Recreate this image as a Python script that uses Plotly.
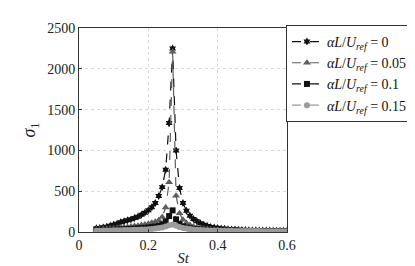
import plotly.graph_objects as go

st = [round(0.05 + 0.01 * i, 2) for i in range(56)]

sigma_a0 = [45, 50, 57, 65, 77, 90, 102, 119, 131, 143,
            155, 171, 188, 212, 237, 266, 303, 355, 440, 550,
            763, 1336, 2250, 1000, 539, 355, 261, 200, 159, 131,
            107, 88, 74, 63, 55, 48, 43, 39, 35, 32,
            30, 28, 26, 24, 23, 22, 21, 20, 19, 18,
            18, 17, 16, 16, 15, 15]
sigma_a005 = [30, 33, 36, 39, 42, 46, 50, 54, 58, 62,
              67, 72, 78, 85, 93, 102, 112, 125, 145, 185,
              300, 610, 2210, 445, 230, 150, 110, 85, 68, 57,
              48, 41, 36, 32, 29, 26, 24, 23, 21, 20,
              19, 18, 17, 16, 16, 15, 14, 14, 13, 13,
              13, 12, 12, 12, 11, 11]
sigma_a01 = [20, 21, 23, 24, 26, 28, 30, 32, 34, 36,
             38, 41, 44, 48, 51, 55, 60, 66, 75, 92,
             130, 195, 265, 155, 98, 70, 55, 45, 38, 33,
             29, 26, 24, 22, 20, 19, 18, 17, 16, 15,
             15, 14, 14, 13, 13, 12, 12, 12, 11, 11,
             11, 10, 10, 10, 10, 10]
sigma_a015 = [15, 16, 17, 18, 19, 20, 21, 22, 23, 24,
              25, 27, 28, 30, 32, 35, 38, 42, 48, 55,
              68, 82, 92, 78, 62, 50, 42, 36, 31, 27,
              24, 22, 20, 19, 18, 17, 16, 15, 14, 14,
              13, 13, 12, 12, 12, 11, 11, 11, 10, 10,
              10, 10, 10, 9, 9, 9]

labels = ["<i>αL</i>/<i>U</i><sub><i>ref</i></sub> = 0",
          "<i>αL</i>/<i>U</i><sub><i>ref</i></sub> = 0.05",
          "<i>αL</i>/<i>U</i><sub><i>ref</i></sub> = 0.1",
          "<i>αL</i>/<i>U</i><sub><i>ref</i></sub> = 0.15"]
x_ticks = [0, 0.2, 0.4, 0.6]
x_ticklabels = ["0", "0.2", "0.4", "0.6"]
y_ticks = [0, 500, 1000, 1500, 2000, 2500]

series = [sigma_a0, sigma_a005, sigma_a01, sigma_a015]
colors = ["#111111", "#5e5e5e", "#111111", "#9a9a9a"]
symbols = ["hexagram", "triangle-up", "square", "circle"]
sizes = [6, 7, 6, 6]

fig = go.Figure()
for ys, lab, c, s, sz in zip(series, labels, colors, symbols, sizes):
    fig.add_trace(go.Scatter(
        x=st, y=ys, name=lab, mode="lines+markers",
        line=dict(color=c, width=1.2, dash="dash"),
        marker=dict(symbol=s, size=sz, color=c, line=dict(width=0)),
    ))

font_family = "Liberation Serif"
fig.update_layout(
    width=415, height=266,
    margin=dict(l=71, r=136, t=20, b=42, autoexpand=False),
    paper_bgcolor="white", plot_bgcolor="white",
    font=dict(family=font_family, size=14, color="#222222"),
    showlegend=True,
    legend=dict(
        x=0.995, y=1.015, xanchor="left", yanchor="top",
        bordercolor="#333333", borderwidth=1, bgcolor="white",
        font=dict(size=14, family=font_family, color="#111111"),
        tracegroupgap=0, itemwidth=30,
    ),
)
fig.update_xaxes(
    range=[0, 0.6], tickvals=x_ticks, ticktext=x_ticklabels,
    showgrid=True, gridcolor="#d9d9d9", griddash="dot", gridwidth=1,
    showline=True, linecolor="#333333", linewidth=1, mirror=True,
    ticks="inside", ticklen=3, tickcolor="#333333",
    zeroline=False, automargin=False,
    title=dict(text="<i>St</i>", standoff=0, font=dict(size=15, family=font_family)),
    tickfont=dict(size=14, family=font_family),
)
fig.update_yaxes(
    range=[0, 2500], tickvals=y_ticks,
    showgrid=True, gridcolor="#d9d9d9", griddash="dot", gridwidth=1,
    showline=True, linecolor="#333333", linewidth=1, mirror=True,
    ticks="inside", ticklen=3, tickcolor="#333333",
    zeroline=False, automargin=False,
    title=dict(text="<i>σ</i><sub>1</sub>", standoff=6, font=dict(size=18, family=font_family)),
    tickfont=dict(size=14, family=font_family),
)

fig.write_html("out.html")
